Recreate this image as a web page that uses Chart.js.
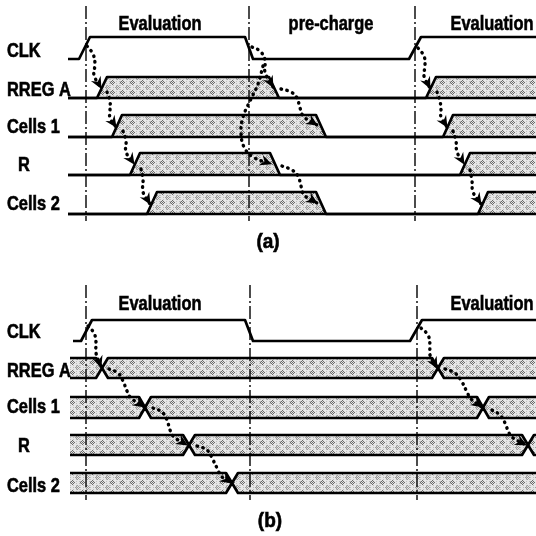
<!DOCTYPE html>
<html>
<head>
<meta charset="utf-8">
<style>
  html, body { margin: 0; padding: 0; background: #fff; }
  #wrap { width: 536px; height: 536px; }
</style>
<script src="https://cdn.jsdelivr.net/npm/chart.js@4.4.0/dist/chart.umd.min.js"></script>
</head>
<body>
<div id="wrap"><canvas id="timing" width="536" height="536"></canvas></div>
<script>
// Dynamic logic timing: (a) with pre-charge phase, (b) without.
// x = time (arbitrary units, left to right), y = vertical position in the figure

const signalNames = ['CLK', 'RREG A', 'Cells 1', 'R', 'Cells 2'];
const phaseNamesA = ['Evaluation', 'pre-charge', 'Evaluation'];
const phaseNamesB = ['Evaluation', '', 'Evaluation'];
const panelNames = ['(a)', '(b)'];

// phase boundaries (the dash-dot lines)
const phaseEdgesA = [86, 249, 415];
const phaseEdgesB = [86, 250, 417];

// clock edges: rise start, rise end, fall start, fall end, rise start, rise end
const clkA = [79, 90, 245, 253, 409, 421];
const clkB = [81, 92, 245, 253, 410, 422];

// panel (a): valid -> back to pre-charge -> valid (transition centres)
const rregA_a = [102, 274, 431];
const cells1_a = [117, 321, 448];
const r_a = [135, 275, 465];
const cells2_a = [152, 321, 483];

// panel (b): bus always holds data, new value crosses over
const rregA_b = [102, 438];
const cells1_b = [145, 483];
const r_b = [189, 528];
const cells2_b = [232];

// dependency arrows, [time, y] waypoints, last one is the arrow tip
const arrowsA = [
  [[87, 46], [93, 54], [95, 64], [94, 75], [101, 88]],
  [[107, 92], [110, 101], [110, 111], [110, 118], [116, 127]],
  [[123, 131], [126, 141], [126, 152], [134, 164]],
  [[141, 169], [143, 180], [143, 192], [150, 204]],
  [[252, 47], [260, 51], [265, 60], [265, 72], [273, 87]],
  [[263, 66], [258, 84], [250, 101], [243, 117], [241, 132], [244, 147], [253, 157], [271, 164]],
  [[281, 89], [291, 92], [297, 98], [300, 108], [304, 117], [317, 125]],
  [[282, 166], [292, 170], [298, 176], [301, 186], [304, 195], [317, 203]],
  [[418, 48], [424, 56], [425, 66], [424, 76], [430, 88]],
  [[437, 92], [440, 101], [441, 110], [441, 117], [447, 127]],
  [[453, 131], [456, 141], [457, 152], [464, 164]],
  [[470, 170], [472, 181], [473, 192], [481, 204]]
];
const arrowsB = [
  [[88, 326], [94, 333], [96, 342], [96, 353], [101, 367]],
  [[109, 369], [118, 373], [123, 381], [127, 391], [131, 398], [144, 407]],
  [[153, 408], [162, 412], [167, 420], [170, 430], [174, 437], [187, 445]],
  [[197, 446], [207, 450], [213, 460], [218, 470], [221, 476], [231, 483]],
  [[421, 328], [428, 335], [430, 345], [430, 355], [437, 368]],
  [[445, 369], [455, 373], [462, 382], [467, 392], [471, 399], [482, 407]],
  [[492, 410], [500, 415], [505, 423], [509, 433], [513, 438], [526, 445]]
];

// ---- layout ----
const traceEnd = 536;
const startA = 68, startB = 70, clkStartB = 73;
const rowTopA = [37, 77, 115, 153, 192];
const rowBotA = [59, 98, 137, 175, 214];
const rowTopB = [320, 358, 397, 435, 473];
const rowBotB = [341, 378, 418, 455, 493];
const labelX = [7, 7, 7, 18, 7];
const labelBaseA = [57, 96, 133, 171, 210];
const labelBaseB = [338, 377, 413, 452, 492];
const phaseLabelX = [160, 331, 492];
const phaseBase = [30, 310];
const panelLabelPos = [[268, 248], [270, 527]];
const guideSpan = [[6, 221], [285, 500]];
const FONT = 'bold 20px "Liberation Sans", Arial, sans-serif';
const NARROW = 0.82;

function makeStipple() {
  const c = document.createElement('canvas');
  c.width = 10; c.height = 10;
  const g = c.getContext('2d');
  g.fillStyle = '#e6e6e6';
  g.fillRect(0, 0, 10, 10);
  for (let y = 0; y < 10; y++) {
    for (let x = 0; x < 10; x++) {
      const d = Math.abs(x - 2) + Math.abs(y - 2);
      const d2 = Math.abs(x - 7) + Math.abs(y - 7);
      if ((x + y) % 2 === 0 && d <= 2) g.fillStyle = '#6a6a6a';
      else if ((x + y) % 2 === 0 && d2 <= 2) g.fillStyle = '#9a9a9a';
      else if (x % 3 === 0 && y % 2 === 1) g.fillStyle = '#bdbdbd';
      else continue;
      g.fillRect(x, y, 1, 1);
    }
  }
  return g.createPattern(c, 'repeat');
}
const stipple = makeStipple();

function clockLine(edges, top, bot, start) {
  // low, rise, high, fall, low, rise ...
  const levels = [bot, top, top, bot, bot, top];
  const pts = [{ x: start, y: bot }];
  edges.forEach((t, i) => pts.push({ x: t, y: levels[i] }));
  pts.push({ x: traceEnd, y: pts[pts.length - 1].y });
  return pts;
}

// (a): one line while pre-charged, opens up into a band while valid
function prechargeBus(times, top, bot, start) {
  const upper = [{ x: start, y: bot }], lower = [{ x: start, y: bot }];
  let valid = false;
  times.forEach(t => {
    upper.push({ x: t - 5, y: valid ? top : bot }, { x: t + 5, y: valid ? bot : top });
    lower.push({ x: t - 5, y: bot }, { x: t + 5, y: bot });
    valid = !valid;
  });
  upper.push({ x: traceEnd, y: valid ? top : bot });
  lower.push({ x: traceEnd, y: bot });
  return [upper, lower];
}

// (b): band all the way, crossing at each new value
function crossBus(times, top, bot, start) {
  const mid = (top + bot) / 2;
  const upper = [{ x: start, y: top }], lower = [{ x: start, y: bot }];
  times.forEach(t => {
    upper.push({ x: t - 6, y: top }, { x: t, y: mid }, { x: t + 6, y: top });
    lower.push({ x: t - 6, y: bot }, { x: t, y: mid }, { x: t + 6, y: bot });
  });
  upper.push({ x: traceEnd, y: top });
  lower.push({ x: traceEnd, y: bot });
  return [upper, lower];
}

const datasets = [];
const wave = (data, extra) => Object.assign({
  data, borderColor: '#000', borderWidth: 2.7, pointRadius: 0, showLine: true,
  tension: 0, fill: false, order: 2, borderJoinStyle: 'round'
}, extra || {});

function addBus(pair) {
  datasets.push(wave(pair[0], { fill: '+1', backgroundColor: stipple }));
  datasets.push(wave(pair[1]));
}

datasets.push(wave(clockLine(clkA, rowTopA[0], rowBotA[0], startA)));
[rregA_a, cells1_a, r_a, cells2_a].forEach((t, i) =>
  addBus(prechargeBus(t, rowTopA[i + 1], rowBotA[i + 1], startA)));
datasets.push(wave(clockLine(clkB, rowTopB[0], rowBotB[0], clkStartB)));
[rregA_b, cells1_b, r_b, cells2_b].forEach((t, i) =>
  addBus(crossBus(t, rowTopB[i + 1], rowBotB[i + 1], startB)));

[[phaseEdgesA, guideSpan[0]], [phaseEdgesB, guideSpan[1]]].forEach(([edges, span]) => {
  edges.forEach(t => datasets.push(wave([{ x: t, y: span[0] }, { x: t, y: span[1] }], {
    borderWidth: 1.4, borderDash: [13, 3, 2, 3], order: 1
  })));
});

arrowsA.concat(arrowsB).forEach(path => {
  datasets.push(wave(path.map(([x, y]) => ({ x, y })), {
    borderWidth: 3.4, borderDash: [0.5, 5.5], borderCapStyle: 'round',
    tension: 0.4, order: 0, arrow: true
  }));
});

const arrowHeads = {
  id: 'arrowHeads',
  afterDatasetsDraw(chart) {
    const ctx = chart.ctx;
    chart.data.datasets.forEach((ds, i) => {
      if (!ds.arrow) return;
      const pts = chart.getDatasetMeta(i).data;
      const tip = pts[pts.length - 1], prev = pts[pts.length - 2];
      const ang = Math.atan2(tip.y - prev.y, tip.x - prev.x);
      ctx.save();
      ctx.translate(tip.x, tip.y);
      ctx.rotate(ang);
      ctx.beginPath();
      ctx.moveTo(1, 0);
      ctx.lineTo(-11, -5.5);
      ctx.lineTo(-7, 0);
      ctx.lineTo(-11, 5.5);
      ctx.closePath();
      ctx.fillStyle = '#000';
      ctx.fill();
      ctx.restore();
    });
  }
};

function narrowText(ctx, text, px, py, align, squeeze) {
  ctx.save();
  ctx.translate(px, py);
  ctx.scale(squeeze, 1);
  ctx.textAlign = align;
  ctx.fillText(text, 0, 0);
  ctx.strokeText(text, 0, 0);
  ctx.restore();
}

const textLabels = {
  id: 'textLabels',
  afterDraw(chart) {
    const { ctx, scales: { x, y } } = chart;
    ctx.save();
    ctx.fillStyle = '#000';
    ctx.strokeStyle = '#000';
    ctx.lineWidth = 0.6;
    ctx.textBaseline = 'alphabetic';
    ctx.font = FONT;
    signalNames.forEach((name, i) => {
      narrowText(ctx, name, x.getPixelForValue(labelX[i]), y.getPixelForValue(labelBaseA[i]), 'left', NARROW);
      narrowText(ctx, name, x.getPixelForValue(labelX[i]), y.getPixelForValue(labelBaseB[i]), 'left', NARROW);
    });
    [phaseNamesA, phaseNamesB].forEach((names, p) => {
      names.forEach((name, i) => {
        if (name) narrowText(ctx, name, x.getPixelForValue(phaseLabelX[i]), y.getPixelForValue(phaseBase[p]), 'center', NARROW);
      });
    });
    panelNames.forEach((name, p) => {
      narrowText(ctx, name, x.getPixelForValue(panelLabelPos[p][0]), y.getPixelForValue(panelLabelPos[p][1]), 'center', 0.95);
    });
    ctx.restore();
  }
};

const ctx = document.getElementById('timing').getContext('2d');
new Chart(ctx, {
  type: 'scatter',
  data: { datasets },
  options: {
    responsive: false,
    animation: false,
    devicePixelRatio: 1,
    layout: { padding: 0 },
    scales: {
      x: { type: 'linear', min: 0, max: 536, display: false },
      y: { type: 'linear', min: 0, max: 536, reverse: true, display: false }
    },
    plugins: {
      legend: { display: false },
      tooltip: { enabled: false },
      filler: { drawTime: 'beforeDatasetsDraw' }
    }
  },
  plugins: [arrowHeads, textLabels]
});
</script>
</body>
</html>
